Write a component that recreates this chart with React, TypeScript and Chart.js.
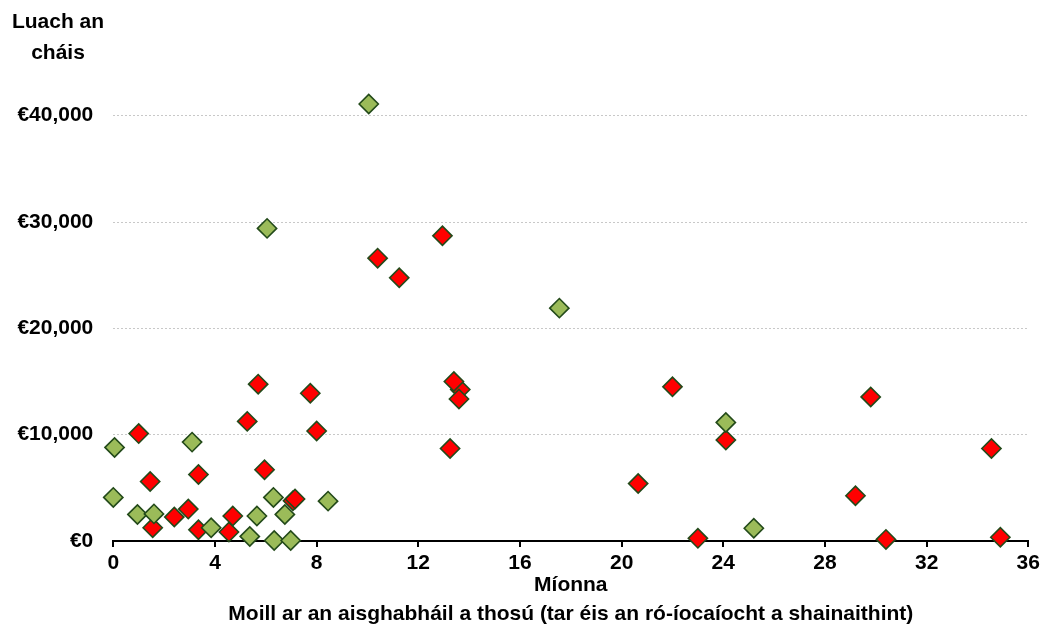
import { useEffect, useRef } from 'react';
import { Chart, registerables } from 'chart.js';

Chart.register(...registerables);

// Series: months of delay (x) and case value in euro (y)
const greenMonths = [0.05, 0.0, 0.95, 1.6, 3.1, 3.85, 5.37, 5.65, 6.05, 6.3, 6.33, 6.75, 6.98, 8.45, 10.05, 17.55, 24.1, 25.2];
const greenValues = [8800, 4100, 2500, 2550, 9300, 1250, 430, 2350, 29400, 4100, 50, 2500, 50, 3750, 41100, 21900, 11150, 1200];

const redMonths = [1.0, 1.45, 1.55, 2.4, 2.95, 3.35, 3.35, 4.55, 4.7, 5.27, 5.7, 5.95, 7.07, 7.15, 7.75, 8.0, 10.4, 11.25, 12.95, 13.25, 13.65, 13.6, 13.4, 20.65, 22.0, 23.0, 24.1, 29.2, 29.8, 30.4, 34.55, 34.9];
const redValues = [10100, 5600, 1250, 2250, 3000, 6250, 1050, 850, 2350, 11250, 14750, 6700, 3780, 3950, 13900, 10350, 26600, 24750, 28700, 8700, 14250, 13350, 15000, 5400, 14500, 250, 9500, 4250, 13550, 150, 8700, 350];

const yTickValues = [0, 10000, 20000, 30000, 40000];
const xMin = 0;
const xMax = 36;
const xStep = 4;
const yMax = 45000;

const yTitleLines = ['Luach an', 'cháis'];
const xTitleLines = ['Míonna', 'Moill ar an aisghabháil a thosú (tar éis an ró-íocaíocht a shainaithint)'];

const FONT = '"Liberation Sans", Arial, sans-serif';

const cornerTitle = {
  id: 'cornerTitle',
  afterDraw(chart: any) {
    const ctx = chart.ctx;
    ctx.save();
    ctx.font = `bold 21px ${FONT}`;
    ctx.fillStyle = '#000';
    ctx.textAlign = 'center';
    ctx.textBaseline = 'alphabetic';
    yTitleLines.forEach((t, i) => ctx.fillText(t, 58, 28 + i * 31));
    ctx.restore();
  },
};

export default function App() {
  const ref = useRef<HTMLCanvasElement | null>(null);

  useEffect(() => {
    if (!ref.current) return;
    const toPoints = (xs: number[], ys: number[]) => xs.map((x, i) => ({ x, y: ys[i] }));
    const chart = new Chart(ref.current, {
      type: 'scatter',
      data: {
        datasets: [
          {
            label: 'Glas',
            data: toPoints(greenMonths, greenValues),
            backgroundColor: '#9BBB59',
            borderColor: '#234a1a',
            borderWidth: 1.6,
            pointStyle: 'rectRot',
            pointRadius: 9.6,
            pointHoverRadius: 9.6,
            clip: false,
          },
          {
            label: 'Dearg',
            data: toPoints(redMonths, redValues),
            backgroundColor: '#FF0000',
            borderColor: '#234a1a',
            borderWidth: 1.6,
            pointStyle: 'rectRot',
            pointRadius: 9.6,
            pointHoverRadius: 9.6,
            clip: false,
          },
        ],
      },
      options: {
        animation: false,
        responsive: false,
        maintainAspectRatio: false,
        layout: { padding: { top: 62.5, right: 24.7, bottom: 0, left: 0 } },
        plugins: {
          legend: { display: false },
          tooltip: { enabled: false },
          title: { display: false },
        },
        scales: {
          x: {
            type: 'linear',
            min: xMin,
            max: xMax,
            ticks: {
              stepSize: xStep,
              color: '#000',
              font: { family: FONT, size: 21, weight: 'bold' },
              padding: 4,
              maxRotation: 0,
            },
            grid: {
              drawOnChartArea: false,
              drawTicks: true,
              tickLength: 6,
              color: '#000',
              lineWidth: 2,
            },
            border: { display: true, color: '#000', width: 2 },
            title: {
              display: true,
              text: xTitleLines,
              color: '#000',
              font: { family: FONT, size: 21, weight: 'bold', lineHeight: 1.38 },
              padding: { top: 0, bottom: 5.5 },
            },
            afterFit(scale: any) {
              scale.height = 93;
            },
          },
          y: {
            type: 'linear',
            min: 0,
            max: yMax,
            afterBuildTicks(scale: any) {
              scale.ticks = yTickValues.map((v) => ({ value: v }));
            },
            ticks: {
              color: '#000',
              font: { family: FONT, size: 21, weight: 'bold' },
              padding: 20,
              callback: (v: any) => '€' + Number(v).toLocaleString('en-US'),
            },
            grid: {
              drawTicks: false,
              color: '#C8C8C8',
              lineWidth: 1,
            },
            border: { display: false, dash: [2, 2] },
            afterFit(scale: any) {
              scale.width = 113.3;
            },
          },
        },
      },
      plugins: [cornerTitle],
    });
    return () => chart.destroy();
  }, []);

  return (
    <div style={{ position: 'fixed', left: 0, top: 0, width: 1053, height: 634, background: '#fff' }}>
      <canvas ref={ref} width={1053} height={634} style={{ display: 'block', width: 1053, height: 634 }} />
    </div>
  );
}
